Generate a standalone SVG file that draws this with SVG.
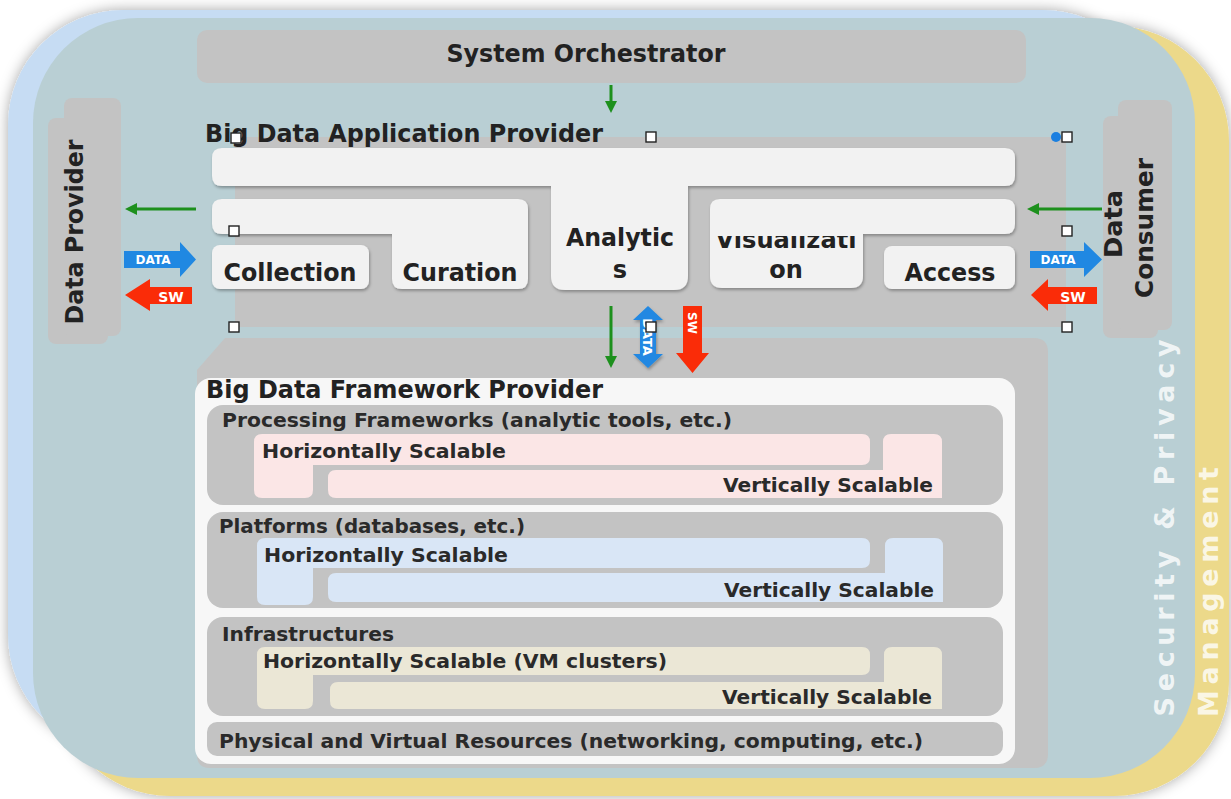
<svg xmlns="http://www.w3.org/2000/svg" width="1231" height="799" viewBox="0 0 1231 799">
<defs>
<style>
.t{font-family:"DejaVu Sans","Liberation Sans",sans-serif;font-weight:bold;fill:#222222}
.big{font-size:24px}
.row{font-size:19px;fill:#2a2a2a}
.box{fill:#f2f2f2}
.gray{fill:#c3c3c3}
.h{fill:#ffffff;stroke:#222;stroke-width:1.4}
.g{stroke:#1d901d;stroke-width:3;fill:none}
.gh{fill:#1d901d}
.blue{fill:#2088e2}
.red{fill:#fa2c08}
.lbl{font-family:"DejaVu Sans","Liberation Sans",sans-serif;font-weight:bold;fill:#ffffff}
.sec{font-family:"DejaVu Sans","Liberation Sans",sans-serif;font-weight:bold;font-size:27px;fill:#ffffff;fill-opacity:0.8}
.pink{fill:#fbe6e6}
.lblue{fill:#d9e6f6}
.beige{fill:#ebe7d6}
</style>
<filter id="outer" x="-5%" y="-5%" width="110%" height="110%">
<feDropShadow dx="0" dy="0" stdDeviation="7" flood-color="#000" flood-opacity="0.35"/>
</filter>
<filter id="sh" x="-10%" y="-10%" width="120%" height="130%">
<feDropShadow dx="1" dy="2" stdDeviation="1.5" flood-color="#000" flood-opacity="0.3"/>
</filter>
<clipPath id="visClip"><rect x="700" y="236" width="180" height="60"/></clipPath>
</defs>
<rect width="1231" height="799" fill="#ffffff"/>
<g id="background">
<rect x="55" y="26" width="1174" height="770" rx="115" fill="#ecd98a" filter="url(#outer)"/>
<rect x="8" y="10" width="1150" height="740" rx="115" fill="#c6dcf3" filter="url(#outer)"/>
<rect x="33" y="18" width="1162" height="760" rx="105" fill="#b9cfd4"/>
</g>
<g id="security-privacy-management">
<text class="sec" transform="translate(1174,528) rotate(-90)" text-anchor="middle" textLength="377" lengthAdjust="spacing">Security &amp; Privacy</text>
<text class="sec" transform="translate(1218,592) rotate(-90)" text-anchor="middle" textLength="250" lengthAdjust="spacing">Management</text>
</g>
<g id="system-orchestrator">
<rect class="gray" x="197" y="30" width="829" height="53" rx="10"/>
<text class="t big" x="586" y="62" text-anchor="middle" textLength="279" lengthAdjust="spacingAndGlyphs">System Orchestrator</text>
</g>
<g id="data-provider">
<rect class="gray" x="48" y="118" width="60" height="226" rx="8"/>
<rect class="gray" x="64" y="98" width="57" height="238" rx="8"/>
<text class="t big" transform="translate(83,232) rotate(-90)" text-anchor="middle" textLength="185" lengthAdjust="spacingAndGlyphs">Data Provider</text>
</g>
<g id="data-consumer">
<rect class="gray" x="1103" y="116" width="55" height="222" rx="8"/>
<rect class="gray" x="1118" y="100" width="54" height="230" rx="8"/>
<text class="t big" transform="translate(1122,224) rotate(-90)" text-anchor="middle" textLength="68" lengthAdjust="spacingAndGlyphs">Data</text>
<text class="t big" transform="translate(1153,228) rotate(-90)" text-anchor="middle" textLength="140" lengthAdjust="spacingAndGlyphs">Consumer</text>
</g>
<g id="big-data-application-provider">
<rect class="gray" x="235" y="137" width="831" height="190"/>
<text class="t big" x="205" y="142" textLength="398" lengthAdjust="spacingAndGlyphs">Big Data Application Provider</text>
<g filter="url(#sh)">
<path class="box" d="M222,148 H1005 Q1015,148 1015,158 V176 Q1015,186 1005,186 H688 V276 Q688,290 674,290 H565 Q551,290 551,276 V186 H222 Q212,186 212,176 V158 Q212,148 222,148 Z"/>
<path class="box" d="M222,199 H518 Q528,199 528,209 V279 Q528,289 518,289 H402 Q392,289 392,279 V234 H222 Q212,234 212,224 V209 Q212,199 222,199 Z"/>
<rect class="box" x="212" y="245" width="157" height="44" rx="8"/>
<path class="box" d="M720,199 H1005 Q1015,199 1015,209 V224 Q1015,234 1005,234 H863 V276 Q863,288 851,288 H722 Q710,288 710,276 V209 Q710,199 720,199 Z"/>
<rect class="box" x="884" y="246" width="131" height="43" rx="8"/>
</g>
<text class="t big" x="290" y="281" text-anchor="middle" textLength="133" lengthAdjust="spacingAndGlyphs">Collection</text>
<text class="t big" x="460" y="281" text-anchor="middle" textLength="115" lengthAdjust="spacingAndGlyphs">Curation</text>
<text class="t big" x="620" y="246" text-anchor="middle" textLength="108" lengthAdjust="spacingAndGlyphs">Analytic</text>
<text class="t big" x="620" y="278" text-anchor="middle">s</text>
<text class="t big" x="786" y="248" text-anchor="middle" clip-path="url(#visClip)" textLength="141" lengthAdjust="spacingAndGlyphs">Visualizati</text>
<text class="t big" x="786" y="278" text-anchor="middle">on</text>
<text class="t big" x="950" y="281" text-anchor="middle" textLength="91" lengthAdjust="spacingAndGlyphs">Access</text>
</g>
<g id="big-data-framework-provider">
<path class="gray" d="M225,338 H1034 Q1048,338 1048,352 V754 Q1048,768 1034,768 H210 Q197,768 197,755 V370 Z"/>
<rect x="195" y="378" width="820" height="386" rx="16" fill="#f7f7f7"/>
<text class="t big" x="206" y="398" textLength="397" lengthAdjust="spacingAndGlyphs">Big Data Framework Provider</text>
<g id="processing-frameworks">
<rect class="gray" x="207" y="405" width="796" height="100" rx="16"/>
<text class="t row" x="222" y="427" textLength="510" lengthAdjust="spacingAndGlyphs">Processing Frameworks (analytic tools, etc.)</text>
<path class="pink" d="M262,434 H862 Q870,434 870,442 V457 Q870,465 862,465 H313 V490 Q313,498 305,498 H262 Q254,498 254,490 V442 Q254,434 262,434 Z"/>
<path class="pink" d="M891,434 H934 Q942,434 942,442 V498 H336 Q328,498 328,490 V478 Q328,470 336,470 H883 V442 Q883,434 891,434 Z"/>
<text class="t row" x="262" y="458" textLength="244" lengthAdjust="spacingAndGlyphs">Horizontally Scalable</text>
<text class="t row" x="933" y="492" text-anchor="end" textLength="210" lengthAdjust="spacingAndGlyphs">Vertically Scalable</text>
</g>
<g id="platforms">
<rect class="gray" x="207" y="512" width="796" height="96" rx="16"/>
<text class="t row" x="219" y="533" textLength="306" lengthAdjust="spacingAndGlyphs">Platforms (databases, etc.)</text>
<path class="lblue" d="M265,538 H862 Q870,538 870,546 V560 Q870,568 862,568 H313 V597 Q313,605 305,605 H265 Q257,605 257,597 V546 Q257,538 265,538 Z"/>
<path class="lblue" d="M893,538 H935 Q943,538 943,546 V602 H336 Q328,602 328,594 V581 Q328,573 336,573 H885 V546 Q885,538 893,538 Z"/>
<text class="t row" x="264" y="562" textLength="244" lengthAdjust="spacingAndGlyphs">Horizontally Scalable</text>
<text class="t row" x="934" y="597" text-anchor="end" textLength="210" lengthAdjust="spacingAndGlyphs">Vertically Scalable</text>
</g>
<g id="infrastructures">
<rect class="gray" x="207" y="617" width="796" height="99" rx="16"/>
<text class="t row" x="222" y="641" textLength="172" lengthAdjust="spacingAndGlyphs">Infrastructures</text>
<path class="beige" d="M265,647 H862 Q870,647 870,655 V667 Q870,675 862,675 H313 V701 Q313,709 305,709 H265 Q257,709 257,701 V655 Q257,647 265,647 Z"/>
<path class="beige" d="M892,647 H934 Q942,647 942,655 V709 H338 Q330,709 330,701 V690 Q330,682 338,682 H884 V655 Q884,647 892,647 Z"/>
<text class="t row" x="263" y="668" textLength="404" lengthAdjust="spacingAndGlyphs">Horizontally Scalable (VM clusters)</text>
<text class="t row" x="932" y="704" text-anchor="end" textLength="210" lengthAdjust="spacingAndGlyphs">Vertically Scalable</text>
</g>
<g id="physical-virtual-resources">
<rect class="gray" x="207" y="722" width="796" height="34" rx="10"/>
<text class="t row" x="219" y="748" textLength="704" lengthAdjust="spacingAndGlyphs">Physical and Virtual Resources (networking, computing, etc.)</text>
</g>
</g>
<g id="connectors">
<line class="g" x1="611" y1="85" x2="611" y2="103"/>
<polygon class="gh" points="611,113 605,101 617,101"/>
<line class="g" x1="196" y1="209" x2="135" y2="209"/>
<polygon class="gh" points="125,209 137,203 137,215"/>
<line class="g" x1="1102" y1="209" x2="1037" y2="209"/>
<polygon class="gh" points="1027,209 1039,203 1039,215"/>
<line class="g" x1="611" y1="306" x2="611" y2="358"/>
<polygon class="gh" points="611,368 605,356 617,356"/>
<polygon class="blue" points="124,251 180,251 180,242 196,259.5 180,277 180,268 124,268"/>
<text class="lbl" x="153" y="264" font-size="12" text-anchor="middle">DATA</text>
<polygon class="red" points="125,295 150,279 150,287 192,287 192,304 150,304 150,311"/>
<text class="lbl" x="171" y="302" font-size="14" text-anchor="middle">SW</text>
<polygon class="blue" points="1030,251 1084,251 1084,242 1102,259.5 1084,277 1084,268 1030,268"/>
<text class="lbl" x="1058" y="264" font-size="12" text-anchor="middle">DATA</text>
<polygon class="red" points="1031,295 1048,279 1048,287 1097,287 1097,304 1048,304 1048,311"/>
<text class="lbl" x="1073" y="302" font-size="14" text-anchor="middle">SW</text>
<polygon class="blue" filter="url(#sh)" points="648,306 663,320 656,320 656,354 663,354 648,368 633,354 640,354 640,320 633,320"/>
<text class="lbl" transform="translate(643,337) rotate(90)" font-size="13" text-anchor="middle">DATA</text>
<polygon class="red" points="683,306 702,306 702,353 709,353 692.5,373 676,353 683,353"/>
<text class="lbl" transform="translate(688,323) rotate(90)" font-size="12" text-anchor="middle">SW</text>
</g>
<g id="handles">
<rect class="h" x="231" y="133" width="10" height="10"/>
<rect class="h" x="646" y="132" width="10" height="10"/>
<circle cx="1056" cy="137" r="5" fill="#1a7fe0"/>
<rect class="h" x="1062" y="132" width="10" height="10"/>
<rect class="h" x="229" y="226" width="10" height="10"/>
<rect class="h" x="229" y="322" width="10" height="10"/>
<rect class="h" x="1062" y="226" width="10" height="10"/>
<rect class="h" x="1062" y="322" width="10" height="10"/>
<rect class="h" x="646" y="322" width="10" height="10"/>
</g>
</svg>
